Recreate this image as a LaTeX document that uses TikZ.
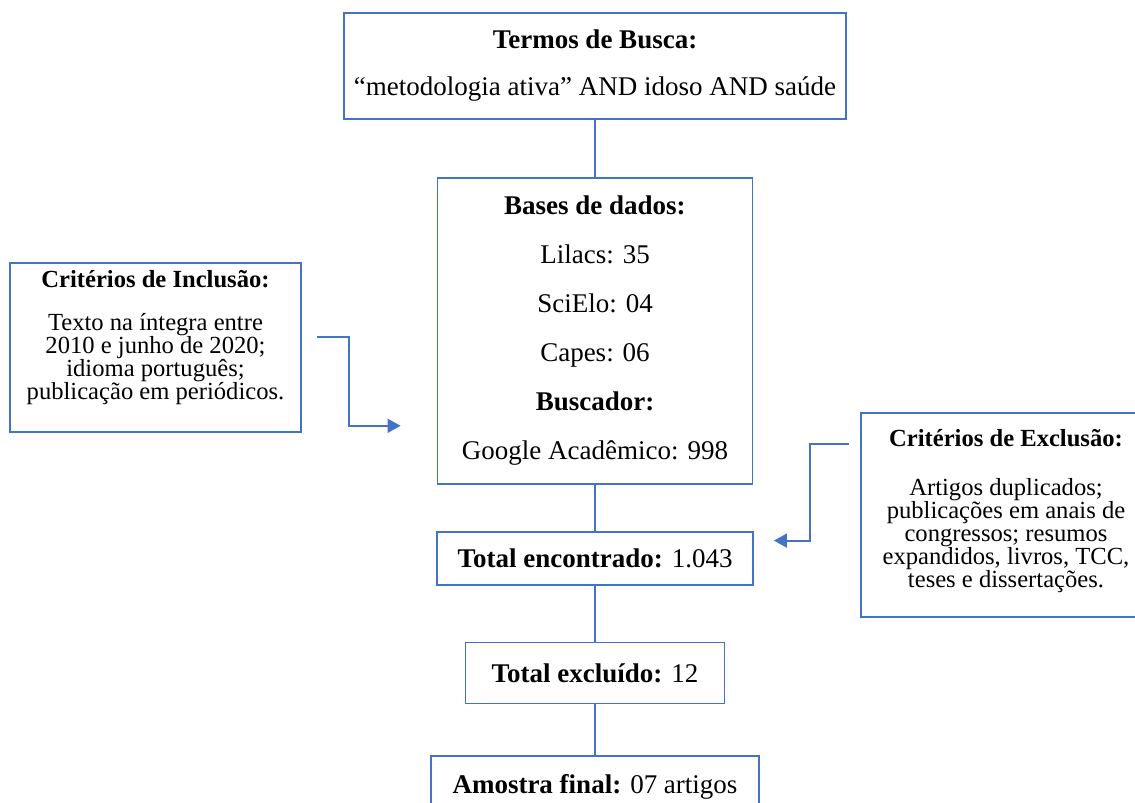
\documentclass[tikz,border=0pt]{standalone}
\usepackage{fontspec}
\setmainfont{Liberation Serif}
\usetikzlibrary{positioning,arrows.meta}
\definecolor{azul}{RGB}{68,114,196}
\tikzset{
  caixa/.style={draw=azul, line width=0.9pt, inner sep=0pt, align=center, font=\fontsize{13.5}{24.5}\selectfont},
  criterio/.style={caixa, font=\fontsize{12.3}{11.5}\selectfont},
  liga/.style={draw=azul, line width=0.9pt},
  seta/.style={liga, -{Triangle[length=6.5pt,width=7pt]}}
}

\begin{document}
\begin{tikzpicture}[x=0.5pt, y=-0.5pt]
\useasboundingbox (0,0) rectangle (1135,803);
\node (termos) [caixa, minimum width=251pt, minimum height=53pt] at (595,66) {\textbf{Termos de Busca:}\\[-1pt] “metodologia ativa” AND idoso AND saúde};
\node (bases) [caixa, minimum width=157.5pt, minimum height=153pt, below=28.5pt of termos] {\textbf{Bases de dados:}\\ Lilacs: 35\\ SciElo: 04\\ Capes: 06\\ \textbf{Buscador:}\\ Google Acadêmico: 998};
\node (encontrado) [caixa, minimum width=158pt, minimum height=26.5pt, below=23pt of bases] {\textbf{Total encontrado:} 1.043};
\node (excluido) [caixa, minimum width=129.5pt, minimum height=30.5pt, below=28pt of encontrado] {\textbf{Total excluído:} 12};
\node (amostra) [caixa, minimum width=164pt, minimum height=31pt, below=25.5pt of excluido] {\textbf{Amostra final:} 07 artigos};
\node (inclusao) [criterio, minimum width=145.5pt, minimum height=84.5pt] at (155.5,347.5) {\textbf{Critérios de Inclusão:}\\[10pt] Texto na íntegra entre\\ 2010 e junho de 2020;\\ idioma português;\\ publicação em periódicos.\rule[-13pt]{0pt}{13pt}};
\node (exclusao) [criterio, minimum width=145pt, minimum height=102pt] at (1006,515) {\textbf{Critérios de Exclusão:}\\[13pt] Artigos duplicados;\\ publicações em anais de\\ congressos; resumos\\ expandidos, livros, TCC,\\ teses e dissertações.\rule[-7pt]{0pt}{7pt}};

\draw[liga] (termos) -- (bases);
\draw[liga] (bases) -- (encontrado);
\draw[liga] (encontrado) -- (excluido);
\draw[liga] (excluido) -- (amostra);

\coordinate (incA) at ([shift={(15,-10.5)}]inclusao.east);
\coordinate (incB) at ([shift={(-36,95)}]bases.west);
\draw[seta] (incA) -- ++(32,0) |- (incB);
\coordinate (excA) at ([shift={(-11,-71)}]exclusao.west);
\coordinate (excB) at ([shift={(20,-17.5)}]encontrado.east);
\draw[seta] (excA) -- ++(-39,0) |- (excB);
\end{tikzpicture}
\end{document}
